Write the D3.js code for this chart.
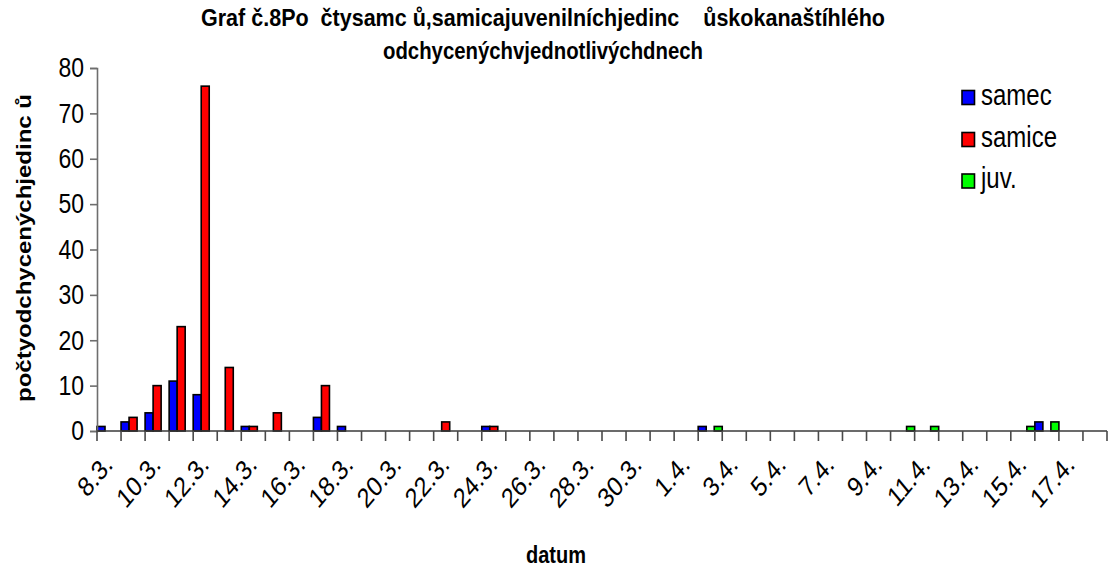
<!DOCTYPE html>
<html>
<head>
<meta charset="utf-8">
<script src="https://cdn.jsdelivr.net/npm/d3@7"></script>
<style>
  html, body { margin: 0; padding: 0; background: #fff; }
  svg { display: block; }
  text { font-family: "Liberation Sans", Arial, sans-serif; fill: #000; white-space: pre; }
</style>
</head>
<body>
<svg id="chart" width="1113" height="573"></svg>
<script>
// Days of trapping, 8 March – 18 April
const dates = [
  "8.3.","9.3.","10.3.","11.3.","12.3.","13.3.","14.3.","15.3.","16.3.","17.3.",
  "18.3.","19.3.","20.3.","21.3.","22.3.","23.3.","24.3.","25.3.","26.3.","27.3.",
  "28.3.","29.3.","30.3.","31.3.","1.4.","2.4.","3.4.","4.4.","5.4.","6.4.",
  "7.4.","8.4.","9.4.","10.4.","11.4.","12.4.","13.4.","14.4.","15.4.","16.4.",
  "17.4.","18.4."
];

// Labelled days on the x axis
const tickLabels = [
  "8.3.","10.3.","12.3.","14.3.","16.3.","18.3.","20.3.","22.3.","24.3.","26.3.",
  "28.3.","30.3.","1.4.","3.4.","5.4.","7.4.","9.4.","11.4.","13.4.","15.4.","17.4."
];

// Counts per day
const samec  = [1,2,4,11,8,0,1,0,0,3, 1,0,0,0,0,0,1,0,0,0, 0,0,0,0,0,1,0,0,0,0, 0,0,0,0,0,0,0,0,0,2, 0,0];
const samice = [0,3,10,23,76,14,1,4,0,10, 0,0,0,0,2,0,1,0,0,0, 0,0,0,0,0,0,0,0,0,0, 0,0,0,0,0,0,0,0,0,0, 0,0];
const juv    = [0,0,0,0,0,0,0,0,0,0, 0,0,0,0,0,0,0,0,0,0, 0,0,0,0,0,1,0,0,0,0, 0,0,0,1,1,0,0,0,1,2, 0,0];

const seriesNames = ["samec", "samice", "juv."];
const seriesValues = [samec, samice, juv];
const seriesColors = ["#0000ff", "#ff0000", "#00ff00"];

const yTicks = [0,10,20,30,40,50,60,70,80];

const titleLines = [
  "Graf č.8Po  čtysamc ů,samicajuvenilníchjedinc    ůskokanaštíhlého",
  "odchycenýchvjednotlivýchdnech"
];
const yTitle = "počtyodchycenýchjedinc ů";
const xTitle = "datum";

// Text is drawn slightly taller than wide
const SY = 1.2;

const svg = d3.select("#chart");

const plot = { left: 97, right: 1107, top: 68, bottom: 431 };

const x = d3.scaleBand().domain(dates).range([plot.left, plot.right]).padding(0);
const xs = d3.scaleBand().domain(seriesNames).range([0, x.bandwidth()]).padding(0);
const y = d3.scaleLinear().domain([0, 80]).range([plot.bottom, plot.top]);

// Title
const titleWidths = [684, 320];
const titleBase = [26, 59];
titleLines.forEach((t, i) => {
  svg.append("text")
    .attr("transform", `translate(543,${titleBase[i]}) scale(1,${SY})`)
    .attr("text-anchor", "middle")
    .attr("font-size", 20)
    .attr("font-weight", "bold")
    .attr("textLength", titleWidths[i])
    .attr("lengthAdjust", "spacingAndGlyphs")
    .text(t);
});

// Bars
const flat = [];
dates.forEach((d, i) => {
  seriesNames.forEach((s, j) => {
    const v = seriesValues[j][i];
    if (v > 0) flat.push({ date: d, series: s, value: v, color: seriesColors[j] });
  });
});

svg.append("g").selectAll("rect")
  .data(flat)
  .join("rect")
  .attr("x", d => x(d.date) + xs(d.series))
  .attr("y", d => y(d.value))
  .attr("width", xs.bandwidth())
  .attr("height", d => y(0) - y(d.value))
  .attr("fill", d => d.color)
  .attr("stroke", "#000")
  .attr("stroke-width", 1.6);

// Y axis
const yAxis = svg.append("g")
  .attr("transform", `translate(${plot.left},0)`)
  .call(d3.axisLeft(y).tickValues(yTicks).tickSize(7).tickPadding(6).tickFormat(d3.format("d")));
yAxis.select(".domain").attr("stroke", "#6e6e6e").attr("stroke-width", 1.6);
yAxis.selectAll(".tick line").attr("stroke", "#6e6e6e").attr("stroke-width", 1.6);
yAxis.selectAll(".tick text")
  .attr("font-size", 23)
  .attr("font-family", "Liberation Sans, Arial, sans-serif")
  .attr("fill", "#000")
  .attr("transform", `scale(1,${SY})`);

// X axis: line, boundary ticks between days, rotated day labels
const xAxis = svg.append("g");
xAxis.append("line")
  .attr("x1", plot.left).attr("x2", plot.right)
  .attr("y1", y(0)).attr("y2", y(0))
  .attr("stroke", "#3a3a3a").attr("stroke-width", 1.6);

const boundaries = dates.map(d => x(d)).concat([x.range()[1]]);
xAxis.selectAll("line.tick")
  .data(boundaries)
  .join("line")
  .attr("class", "tick")
  .attr("x1", d => d).attr("x2", d => d)
  .attr("y1", y(0)).attr("y2", y(0) + 10)
  .attr("stroke", "#4a4a4a").attr("stroke-width", 1.6);

xAxis.selectAll("text.lbl")
  .data(tickLabels)
  .join("text")
  .attr("class", "lbl")
  .attr("text-anchor", "end")
  .attr("font-size", 23)
  .attr("transform", d => `translate(${x(d) + x.bandwidth() / 2 + 5},466) scale(1,${SY}) rotate(-45)`)
  .text(d => d);

// Axis titles
svg.append("text")
  .attr("transform", `translate(31,248) scale(1,${SY}) rotate(-90)`)
  .attr("text-anchor", "middle")
  .attr("font-size", 20)
  .attr("font-weight", "bold")
  .text(yTitle);

svg.append("text")
  .attr("transform", `translate(556,563) scale(1,${SY})`)
  .attr("text-anchor", "middle")
  .attr("font-size", 20)
  .attr("font-weight", "bold")
  .text(xTitle);

// Legend
const legend = svg.append("g");
const legendY = [97.5, 139.5, 181];
seriesNames.forEach((s, i) => {
  legend.append("rect")
    .attr("x", 962).attr("y", legendY[i] - 7)
    .attr("width", 12.5).attr("height", 14)
    .attr("fill", seriesColors[i])
    .attr("stroke", "#000").attr("stroke-width", 1.6);
  legend.append("text")
    .attr("transform", `translate(981,${legendY[i] + 7}) scale(1,${SY})`)
    .attr("font-size", 24)
    .text(s);
});
</script>
</body>
</html>
